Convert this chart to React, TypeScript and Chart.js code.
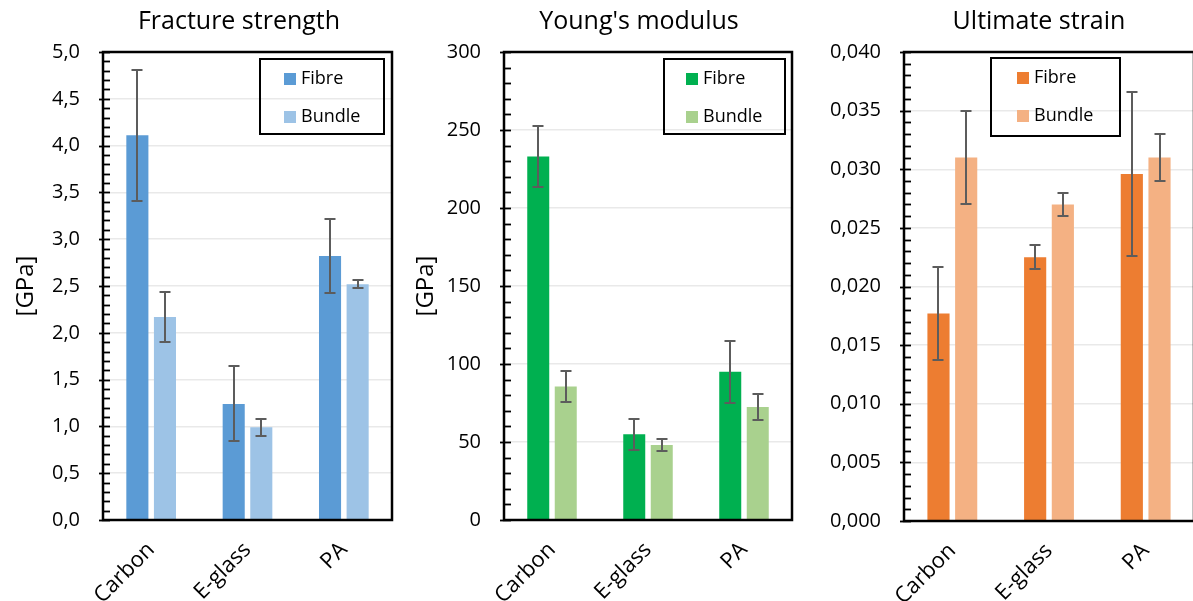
import React, { useEffect, useRef } from "react";
import { Chart, registerables } from "chart.js";

Chart.register(...registerables);

// ---------------- DATA ----------------
const categories = ["Carbon", "E-glass", "PA"];
const seriesNames = ["Fibre", "Bundle"];

const strengthFibre = [4.11, 1.24, 2.82];
const strengthFibreErr = [0.7, 0.4, 0.4];
const strengthBundle = [2.17, 0.99, 2.52];
const strengthBundleErr = [0.27, 0.09, 0.04];

const modulusFibre = [233, 55, 95];
const modulusFibreErr = [19.5, 10, 20];
const modulusBundle = [85.5, 48, 72.5];
const modulusBundleErr = [10, 4, 8.5];

const strainFibre = [0.0177, 0.0225, 0.0296];
const strainFibreErr = [0.004, 0.001, 0.007];
const strainBundle = [0.031, 0.027, 0.031];
const strainBundleErr = [0.004, 0.001, 0.002];

const FONT = "'Open Sans', 'DejaVu Sans', sans-serif";

const decorPlugin = {
  id: "decor",
  afterDatasetsDraw(chart: any, _args: any, opts: any) {
    const ctx = chart.ctx;
    const { left, right, top, bottom } = chart.chartArea;
    const y = chart.scales.y;
    ctx.save();
    // error bars
    ctx.strokeStyle = "#5c5c5c";
    ctx.lineWidth = 2;
    chart.data.datasets.forEach((ds: any, i: number) => {
      const meta = chart.getDatasetMeta(i);
      meta.data.forEach((bar: any, j: number) => {
        const v = ds.data[j];
        const e = ds.errors[j];
        const yh = Math.round(y.getPixelForValue(v + e));
        const yl = Math.round(y.getPixelForValue(v - e));
        const x = Math.round(bar.x);
        ctx.beginPath();
        ctx.moveTo(x, yh);
        ctx.lineTo(x, yl);
        ctx.moveTo(x - 5.5, yh);
        ctx.lineTo(x + 5.5, yh);
        ctx.moveTo(x - 5.5, yl);
        ctx.lineTo(x + 5.5, yl);
        ctx.stroke();
      });
    });
    // frame
    ctx.strokeStyle = "#000";
    ctx.lineWidth = 2.5;
    ctx.strokeRect(left, top, right - left, bottom - top);
    // ticks
    const n = Math.round((y.max - y.min) / opts.minor);
    const every = Math.round(opts.major / opts.minor);
    ctx.lineWidth = 1.8;
    for (let k = 0; k <= n; k++) {
      const py = Math.round(y.getPixelForValue(y.min + k * opts.minor)) + 0.5;
      const major = k % every === 0;
      ctx.beginPath();
      ctx.moveTo(major ? left - 4 : left, py);
      ctx.lineTo(left + 7, py);
      ctx.stroke();
    }
    // legend
    const L = opts.legend;
    ctx.lineWidth = 2;
    ctx.strokeStyle = "#000";
    ctx.strokeRect(L.x, L.y, L.w, L.h);
    ctx.font = `18px ${FONT}`;
    ctx.textBaseline = "middle";
    ctx.textAlign = "left";
    chart.data.datasets.forEach((ds: any, i: number) => {
      const cy = L.y + 20 + i * 38;
      ctx.fillStyle = ds.backgroundColor;
      ctx.fillRect(L.x + L.sq, cy - 6, 12, 12);
      ctx.fillStyle = "#000";
      ctx.fillText(ds.label, L.x + L.sq + 17, cy);
    });
    // title
    ctx.font = `25px ${FONT}`;
    ctx.textAlign = "center";
    ctx.textBaseline = "middle";
    ctx.fillStyle = "#000";
    ctx.fillText(opts.title, opts.titleX, 22);
    ctx.restore();
  },
};

type Panel = {
  left: number;
  title: string;
  yTitle: string;
  fibre: number[];
  fibreErr: number[];
  bundle: number[];
  bundleErr: number[];
  colors: [string, string];
  max: number;
  step: number;
  minor: number;
  decimals: number;
  padRight: number;
  xHeight: number;
  legend: { x: number; y: number; w: number; h: number; sq: number };
};

const panels: Panel[] = [
  {
    left: 0,
    title: "Fracture strength",
    yTitle: "[GPa]",
    fibre: strengthFibre,
    fibreErr: strengthFibreErr,
    bundle: strengthBundle,
    bundleErr: strengthBundleErr,
    colors: ["#5B9BD5", "#9DC3E6"],
    max: 5,
    step: 0.5,
    minor: 0.1,
    decimals: 1,
    padRight: 8,
    xHeight: 81,
    legend: { x: 260, y: 59, w: 124, h: 75, sq: 24 },
  },
  {
    left: 400,
    title: "Young's modulus",
    yTitle: "[GPa]",
    fibre: modulusFibre,
    fibreErr: modulusFibreErr,
    bundle: modulusBundle,
    bundleErr: modulusBundleErr,
    colors: ["#00B050", "#A9D18E"],
    max: 300,
    step: 50,
    minor: 10,
    decimals: 0,
    padRight: 8,
    xHeight: 81,
    legend: { x: 264, y: 59, w: 121, h: 75, sq: 22 },
  },
  {
    left: 800,
    title: "Ultimate strain",
    yTitle: "",
    fibre: strainFibre,
    fibreErr: strainFibreErr,
    bundle: strainBundle,
    bundleErr: strainBundleErr,
    colors: ["#ED7D31", "#F4B183"],
    max: 0.04,
    step: 0.005,
    minor: 0.001,
    decimals: 3,
    padRight: 6,
    xHeight: 80,
    legend: { x: 191, y: 58, w: 129, h: 78, sq: 26 },
  },
];

function BarPanel({ p }: { p: Panel }) {
  const ref = useRef<HTMLCanvasElement | null>(null);
  useEffect(() => {
    if (!ref.current) return;
    const chart = new Chart(ref.current, {
      type: "bar",
      data: {
        labels: categories,
        datasets: [
          {
            label: seriesNames[0],
            data: p.fibre,
            errors: p.fibreErr,
            backgroundColor: p.colors[0],
            barPercentage: 0.8,
            categoryPercentage: 0.573,
          } as any,
          {
            label: seriesNames[1],
            data: p.bundle,
            errors: p.bundleErr,
            backgroundColor: p.colors[1],
            barPercentage: 0.8,
            categoryPercentage: 0.573,
          } as any,
        ],
      },
      options: {
        responsive: false,
        animation: false,
        devicePixelRatio: 1,
        layout: { padding: { left: 0, right: p.padRight, top: 52, bottom: 0 } },
        plugins: {
          legend: { display: false },
          tooltip: { enabled: false },
          title: { display: false },
          decor: {
            minor: p.minor,
            major: p.step,
            legend: p.legend,
            title: p.title,
            titleX: 239,
          },
        } as any,
        scales: {
          x: {
            grid: { display: false },
            border: { display: false },
            ticks: {
              color: "#000",
              font: { family: FONT, size: 22 },
              maxRotation: 45,
              minRotation: 45,
              autoSkip: false,
              padding: 9,
            },
            afterFit: (s: any) => {
              s.height = p.xHeight;
            },
          },
          y: {
            min: 0,
            max: p.max,
            border: { display: false },
            grid: { color: "#e9e9e9", lineWidth: 1.5, drawTicks: false },
            ticks: {
              stepSize: p.step,
              color: "#000",
              padding: 23,
              font: { family: FONT, size: 20 },
              callback: (v: any) => Number(v).toFixed(p.decimals).replace(".", ","),
            },
            title: {
              display: p.yTitle !== "",
              text: p.yTitle,
              color: "#000",
              font: { family: FONT, size: 24, lineHeight: 1.2 },
              padding: { top: 11.5, bottom: 0 },
            },
            afterFit: (s: any) => {
              s.width = p.left === 0 ? 103 : 104;
            },
          },
        },
      },
      plugins: [decorPlugin],
    } as any);
    return () => chart.destroy();
  }, []);
  return (
    <canvas
      ref={ref}
      width={400}
      height={601}
      style={{ position: "absolute", left: p.left, top: 0, width: 400, height: 601 }}
    />
  );
}

export default function App() {
  return (
    <div
      style={{
        position: "absolute",
        left: 0,
        top: 0,
        width: 1193,
        height: 601,
        overflow: "hidden",
        background: "#fff",
      }}
    >
      {panels.map((p, i) => (
        <BarPanel key={i} p={p} />
      ))}
    </div>
  );
}
